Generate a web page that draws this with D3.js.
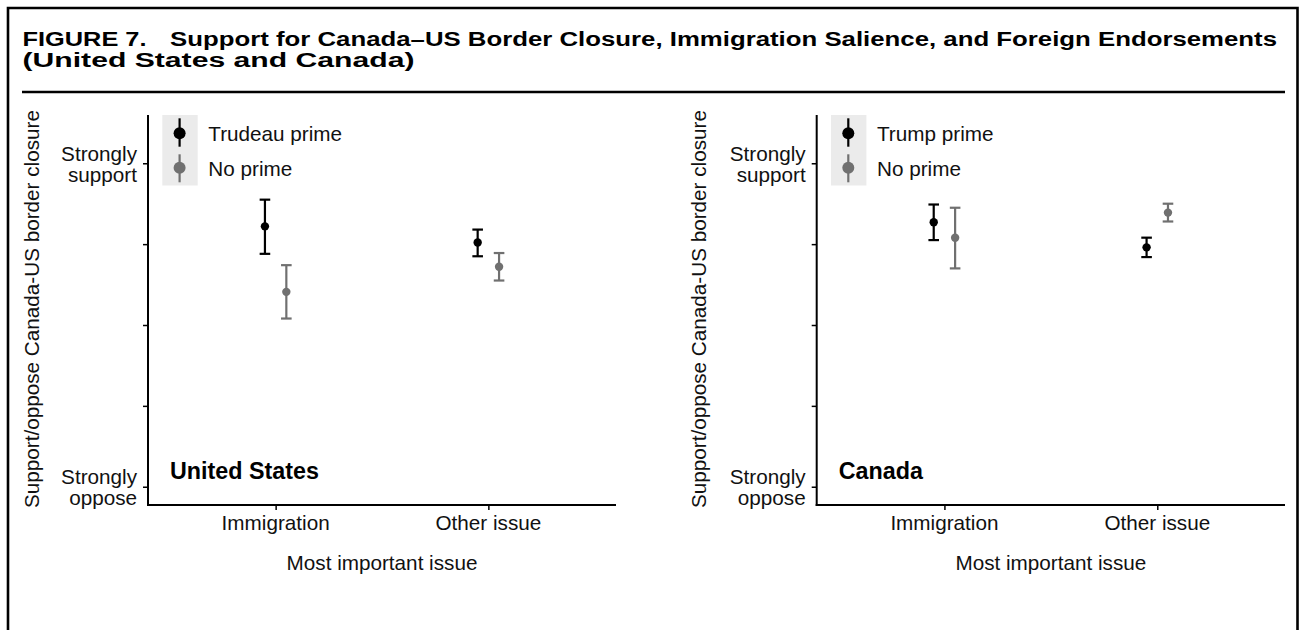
<!DOCTYPE html>
<html><head><meta charset="utf-8">
<script src="https://cdn.jsdelivr.net/npm/d3@7"></script>
<style>
html,body{margin:0;padding:0;background:#fff;}
svg{display:block;font-family:"Liberation Sans",Arial,Helvetica,sans-serif;}
</style></head>
<body>
<svg id="chart" width="1300" height="630"></svg>
<script>
// ---- data ----
const categories = ["Immigration", "Other issue"];
const yTicks = [1, 2, 3, 4, 5];
const yTickLabels = ["Strongly\noppose", "", "", "", "Strongly\nsupport"];

const usPrimeLabel = "Trudeau prime";
const usPrimeMean = [4.22, 4.02];
const usPrimeLow  = [3.88, 3.85];
const usPrimeHigh = [4.55, 4.18];
const usNoMean = [3.41, 3.72];
const usNoLow  = [3.08, 3.55];
const usNoHigh = [3.74, 3.89];

const caPrimeLabel = "Trump prime";
const caPrimeMean = [4.27, 3.96];
const caPrimeLow  = [4.05, 3.84];
const caPrimeHigh = [4.49, 4.08];
const caNoMean = [4.08, 4.39];
const caNoLow  = [3.70, 4.28];
const caNoHigh = [4.45, 4.50];

const noPrimeLabel = "No prime";
const titleLead = "FIGURE 7.";
const titleMain = "Support for Canada\u2013US Border Closure, Immigration Salience, and Foreign Endorsements";
const titleLine2 = "(United States and Canada)";
const yTitle = "Support/oppose Canada-US border closure";
const xTitle = "Most important issue";

// ---- drawing ----
const svg = d3.select("#chart");
const BLACK = "#000000", GREY = "#707070";
const FS = 20.7;

// frame
svg.append("path")
  .attr("d", "M8,630 L8,8 L1297.5,8 L1297.5,630")
  .attr("fill", "none").attr("stroke", "#000").attr("stroke-width", 2.6);
svg.append("line").attr("x1", 22).attr("x2", 1285).attr("y1", 92).attr("y2", 92)
  .attr("stroke", "#000").attr("stroke-width", 2.6);

// title
const TFS = 19.5;
svg.append("text").attr("x", 22.5).attr("y", 46).attr("font-weight", "bold")
  .attr("font-size", TFS).attr("textLength", 124).attr("lengthAdjust", "spacingAndGlyphs")
  .text(titleLead);
svg.append("text").attr("x", 170).attr("y", 46).attr("font-weight", "bold")
  .attr("font-size", TFS).attr("textLength", 1107).attr("lengthAdjust", "spacingAndGlyphs")
  .text(titleMain);
svg.append("text").attr("x", 22.5).attr("y", 67).attr("font-weight", "bold")
  .attr("font-size", TFS).attr("textLength", 392).attr("lengthAdjust", "spacingAndGlyphs")
  .text(titleLine2);

function panel(opts) {
  const { x0, x1, primeLabel, pm, pl, ph, nm, nl, nh, name, ytitleX } = opts;
  const yTop = 115, yBot = 505;
  const y = d3.scaleLinear().domain([0.774, 5.597]).range([yBot, yTop]);
  const x = d3.scaleLinear().domain([0.4, 2.6]).range([x0, x1]);
  const dodge = d3.scalePoint().domain(["prime", "none"]).range([-10.7, 10.7]);
  const g = svg.append("g");

  // y axis
  const yAxis = d3.axisLeft(y).tickValues(yTicks).tickSize(5).tickFormat(() => "");
  const ya = g.append("g").attr("transform", `translate(${x0},0)`).call(yAxis);
  ya.select(".domain").attr("d", `M0,${yTop}V${yBot + 1}`).attr("stroke-width", 2);
  ya.selectAll(".tick line").attr("stroke-width", 1.5);
  // y tick labels (two lines each, one text element)
  yTicks.forEach((v, i) => {
    const lines = yTickLabels[i] ? yTickLabels[i].split("\n") : [];
    if (!lines.length) return;
    const t = g.append("text").attr("text-anchor", "end").attr("font-size", FS).attr("fill", "#111");
    lines.forEach((ln, j) => {
      t.append("tspan").attr("x", x0 - 11)
        .attr("y", y(v) + 8 + (j - (lines.length - 1) / 2) * 21).text(ln);
    });
  });

  // x axis
  const xAxis = d3.axisBottom(x).tickValues(categories.map((c, i) => i + 1)).tickSize(5).tickFormat(() => "");
  const xa = g.append("g").attr("transform", `translate(0,${yBot})`).call(xAxis);
  xa.select(".domain").attr("d", `M${x0 - 1},0H${x1}`).attr("stroke-width", 2);
  xa.selectAll(".tick line").attr("stroke-width", 1.5);
  categories.forEach((c, i) => {
    g.append("text").attr("x", x(i + 1)).attr("y", 530).attr("text-anchor", "middle")
      .attr("font-size", FS).attr("fill", "#111").text(c);
  });
  g.append("text").attr("x", (x0 + x1) / 2).attr("y", 570).attr("text-anchor", "middle")
    .attr("font-size", FS).attr("fill", "#111").text(xTitle);
  g.append("text").attr("transform", `translate(${ytitleX},${(yTop + yBot) / 2 - 1}) rotate(-90)`)
    .attr("text-anchor", "middle").attr("dy", "0.35em").attr("font-size", FS).attr("fill", "#111").text(yTitle);

  // panel label
  g.append("text").attr("x", x0 + 22).attr("y", 478.5).attr("font-weight", "bold")
    .attr("font-size", 23.3).attr("fill", "#000").text(name);

  // error bars and points
  const series = [
    { key: "prime", color: BLACK, m: pm, lo: pl, hi: ph },
    { key: "none", color: GREY, m: nm, lo: nl, hi: nh }
  ];
  series.forEach(s => {
    const sg = g.append("g");
    categories.forEach((c, i) => {
      const cx = x(i + 1) + dodge(s.key);
      sg.append("line").attr("x1", cx).attr("x2", cx).attr("y1", y(s.lo[i])).attr("y2", y(s.hi[i]))
        .attr("stroke", s.color).attr("stroke-width", 2.2);
      [s.lo[i], s.hi[i]].forEach(v => {
        sg.append("line").attr("x1", cx - 5.3).attr("x2", cx + 5.3).attr("y1", y(v)).attr("y2", y(v))
          .attr("stroke", s.color).attr("stroke-width", 2.2);
      });
      sg.append("circle").attr("cx", cx).attr("cy", y(s.m[i])).attr("r", 4.2).attr("fill", s.color);
    });
  });

  // legend
  const lx = x0 + 14.3;
  g.append("rect").attr("x", lx).attr("y", 115).attr("width", 35.4).attr("height", 70.5).attr("fill", "#ebebeb");
  const keys = [
    { color: BLACK, label: primeLabel, cy: 133.3, y1: 118.3, y2: 146.7, ty: 140.5 },
    { color: GREY, label: noPrimeLabel, cy: 167.7, y1: 154.3, y2: 182.3, ty: 176 }
  ];
  keys.forEach(k => {
    const kx = lx + 17.3;
    g.append("line").attr("x1", kx).attr("x2", kx).attr("y1", k.y1).attr("y2", k.y2)
      .attr("stroke", k.color).attr("stroke-width", 2.2);
    g.append("circle").attr("cx", kx).attr("cy", k.cy).attr("r", 6).attr("fill", k.color);
    g.append("text").attr("x", x0 + 60.3).attr("y", k.ty).attr("font-size", FS).attr("fill", "#111").text(k.label);
  });
}

panel({ x0: 148, x1: 616, primeLabel: usPrimeLabel, pm: usPrimeMean, pl: usPrimeLow, ph: usPrimeHigh,
        nm: usNoMean, nl: usNoLow, nh: usNoHigh, name: "United States", ytitleX: 32 });
panel({ x0: 816.7, x1: 1285, primeLabel: caPrimeLabel, pm: caPrimeMean, pl: caPrimeLow, ph: caPrimeHigh,
        nm: caNoMean, nl: caNoLow, nh: caNoHigh, name: "Canada", ytitleX: 698.5 });
</script>
</body></html>
